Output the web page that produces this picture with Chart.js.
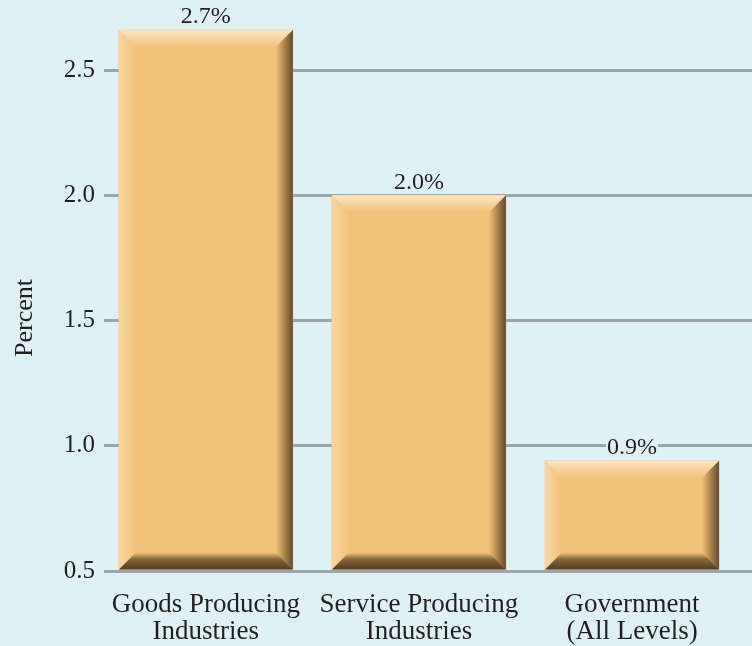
<!DOCTYPE html>
<html>
<head>
<meta charset="utf-8">
<script src="https://cdn.jsdelivr.net/npm/chart.js@4.4.0/dist/chart.umd.min.js"></script>
<style>
  html, body { margin: 0; padding: 0; background: #e0f1f6; }
  canvas { display: block; }
</style>
</head>
<body>
<canvas id="chart" width="752" height="646"></canvas>
<script>
// 資料
const categories = [
    ['Goods Producing', 'Industries'],
    ['Service Producing', 'Industries'],
    ['Government', '(All Levels)']
];
const values = [2.66, 2.0, 0.94];
const valueLabels = ['2.7%', '2.0%', '0.9%'];
const yTitle = 'Percent';
const yMin = 0.5;
const yMax = 2.78;
const yStep = 0.5;

const bgColor = '#e0f1f6';
const barColor = '#f3c27a';
const textColor = '#231f20';
const gridColor = '#9ca5aa';
const serif = '"Liberation Serif", "Times New Roman", serif';

// 立體斜角效果 + 數值標籤
const bevelPlugin = {
    id: 'bevel',
    afterDatasetsDraw(chart) {
        const ctx = chart.ctx;
        const meta = chart.getDatasetMeta(0);
        meta.data.forEach(bar => {
            const l = bar.x - bar.width / 2;
            const r = bar.x + bar.width / 2;
            const t = Math.min(bar.y, bar.base);
            const bt = Math.max(bar.y, bar.base);
            const b = 17;
            ctx.save();

            // top
            let g = ctx.createLinearGradient(0, t, 0, t + b);
            g.addColorStop(0, '#fbe5c6');
            g.addColorStop(1, barColor);
            ctx.fillStyle = g;
            ctx.beginPath();
            ctx.moveTo(l, t); ctx.lineTo(r, t); ctx.lineTo(r - b, t + b); ctx.lineTo(l + b, t + b);
            ctx.closePath(); ctx.fill();

            // left
            g = ctx.createLinearGradient(l, 0, l + b, 0);
            g.addColorStop(0, '#f8d6a3');
            g.addColorStop(1, barColor);
            ctx.fillStyle = g;
            ctx.beginPath();
            ctx.moveTo(l, t); ctx.lineTo(l + b, t + b); ctx.lineTo(l + b, bt - b); ctx.lineTo(l, bt);
            ctx.closePath(); ctx.fill();

            // right
            g = ctx.createLinearGradient(r - b, 0, r, 0);
            g.addColorStop(0, barColor);
            g.addColorStop(0.5, '#ab844c');
            g.addColorStop(1, '#654b2e');
            ctx.fillStyle = g;
            ctx.beginPath();
            ctx.moveTo(r, t); ctx.lineTo(r, bt); ctx.lineTo(r - b, bt - b); ctx.lineTo(r - b, t + b);
            ctx.closePath(); ctx.fill();

            // bottom
            g = ctx.createLinearGradient(0, bt - b, 0, bt);
            g.addColorStop(0, barColor);
            g.addColorStop(0.4, '#86663c');
            g.addColorStop(1, '#503b24');
            ctx.fillStyle = g;
            ctx.beginPath();
            ctx.moveTo(l, bt); ctx.lineTo(r, bt); ctx.lineTo(r - b, bt - b); ctx.lineTo(l + b, bt - b);
            ctx.closePath(); ctx.fill();

            ctx.restore();
        });

        ctx.save();
        ctx.font = '24px ' + serif;
        ctx.textAlign = 'center';
        ctx.textBaseline = 'middle';
        meta.data.forEach((bar, i) => {
            const txt = valueLabels[i];
            const w = ctx.measureText(txt).width;
            const cy = bar.y - 13;
            ctx.fillStyle = bgColor;
            ctx.fillRect(bar.x - w / 2 - 1, cy - 9, w + 2, 18);
            ctx.fillStyle = textColor;
            ctx.fillText(txt, bar.x, cy);
        });
        ctx.restore();
    },
    // y 軸標題（比圖區中心稍低）
    afterDraw(chart) {
        const ctx = chart.ctx;
        const area = chart.chartArea;
        ctx.save();
        ctx.translate(25, area.top + area.height * 0.557);
        ctx.rotate(-Math.PI / 2);
        ctx.font = '26px ' + serif;
        ctx.fillStyle = textColor;
        ctx.textAlign = 'center';
        ctx.textBaseline = 'middle';
        ctx.fillText(yTitle, 0, 0);
        ctx.restore();
    }
};

new Chart(document.getElementById('chart'), {
    type: 'bar',
    data: {
        datasets: [{
            data: values.map((v, i) => ({ x: i, y: v })),
            base: yMin,
            backgroundColor: barColor,
            borderWidth: 0,
            barThickness: 174
        }]
    },
    options: {
        responsive: false,
        animation: false,
        events: [],
        layout: { padding: 0, autoPadding: false },
        plugins: {
            legend: { display: false },
            tooltip: { enabled: false }
        },
        scales: {
            x: {
                type: 'linear',
                offset: false,
                min: -0.478,
                max: 2.563,
                afterFit: axis => {
                    axis.height = 75;
                    axis.paddingLeft = 0;
                    axis.paddingRight = 0;
                },
                grid: { display: false, drawTicks: false },
                border: { display: false },
                ticks: {
                    stepSize: 1,
                    includeBounds: false,
                    autoSkip: false,
                    maxRotation: 0,
                    padding: 20,
                    color: textColor,
                    font: { family: serif, size: 27, lineHeight: 1.0 },
                    callback: v => categories[v] || ''
                }
            },
            y: {
                min: yMin,
                max: yMax,
                afterFit: axis => {
                    axis.width = 104;
                    axis.paddingTop = 0;
                    axis.paddingBottom = 0;
                },
                grid: { color: gridColor, lineWidth: 3, drawTicks: false },
                border: { display: false },
                ticks: {
                    stepSize: yStep,
                    includeBounds: false,
                    padding: 9,
                    color: textColor,
                    font: { family: serif, size: 25 },
                    callback: v => v.toFixed(1)
                }
            }
        }
    },
    plugins: [bevelPlugin]
});
</script>
</body>
</html>
